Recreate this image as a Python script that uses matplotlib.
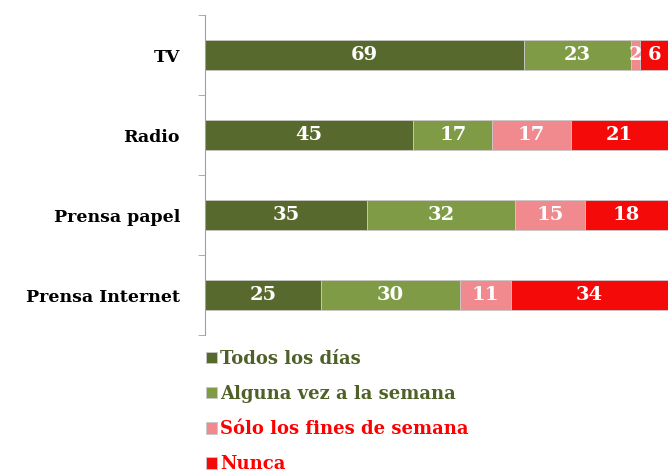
import matplotlib
matplotlib.use("Agg")
from matplotlib import pyplot as plt

categories = ['TV', 'Radio', 'Prensa papel', 'Prensa Internet']
series_names = ['Todos los días', 'Alguna vez a la semana', 'Sólo los fines de semana', 'Nunca']
todos = [69, 45, 35, 25]
alguna = [23, 17, 32, 30]
fines = [2, 17, 15, 11]
nunca = [6, 21, 18, 34]

COLORS = ['#58692e', '#7f9b46', '#f08a8f', '#f50a0a']
TEXT_COLORS = ['#4f6128', '#4f6128', '#ff0000', '#ff0000']

fig = plt.figure(figsize=(6.68, 4.72), dpi=100)
ax = fig.add_axes([0.307, 0.29, 0.693, 0.678])

ypos = list(range(len(categories)))
left = [0] * len(categories)
for name, vals, color in zip(series_names, [todos, alguna, fines, nunca], COLORS):
    ax.barh(ypos, vals, left=left, height=0.38, color=color,
            edgecolor='#c8c8c8', linewidth=0.6, label=name)
    for y, l, v in zip(ypos, left, vals):
        ax.text(l + v / 2, y, str(v), ha='center', va='center', color='white',
                fontsize=14, fontweight='bold', family='DejaVu Serif')
    left = [a + b for a, b in zip(left, vals)]

ax.set_xlim(0, 100)
ax.set_ylim(len(categories) - 0.5, -0.5)
ax.set_xticks([])
ax.set_yticks(ypos)
ax.set_yticklabels(categories, fontsize=12.5, fontweight='bold', family='DejaVu Serif')
ax.tick_params(axis='y', which='major', length=0, pad=18)
ax.set_yticks([-0.5, 0.5, 1.5, 2.5, 3.5], minor=True)
ax.tick_params(axis='y', which='minor', length=5, color='#a0a0a0')
for s in ['top', 'right', 'bottom']:
    ax.spines[s].set_visible(False)
ax.spines['left'].set_color('#a0a0a0')

leg = fig.legend(loc='upper left', bbox_to_anchor=(0.298, 0.274), frameon=False,
                 handlelength=0.6, handleheight=0.6, handletextpad=0.15,
                 labelspacing=0.95, labelcolor=TEXT_COLORS, borderaxespad=0,
                 prop={'family': 'DejaVu Serif', 'weight': 'bold', 'size': 13})

plt.savefig('out.png', dpi=100)
